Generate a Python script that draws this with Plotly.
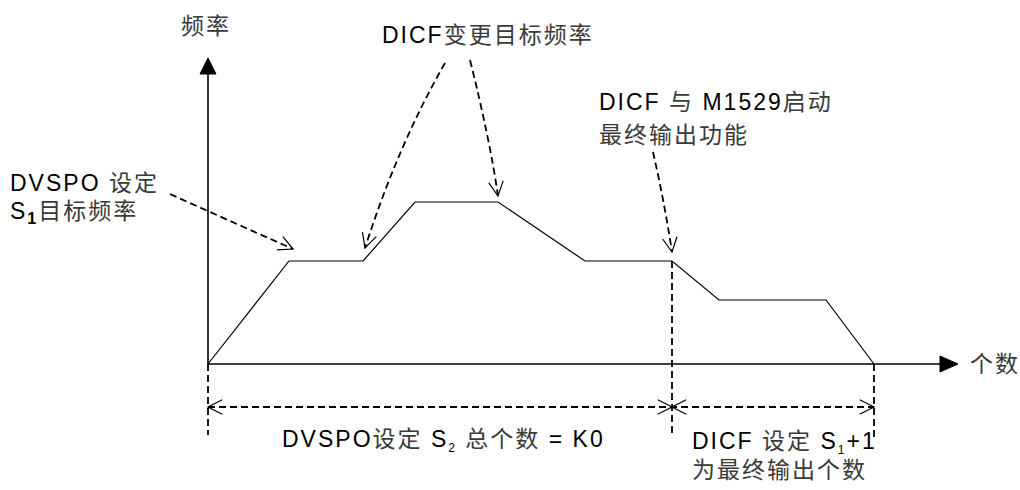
import math
import re
import plotly.graph_objects as go

# ---- data ----
counts = [0, 81, 155, 207, 290, 377, 464, 511, 618, 666]     # 个数 (relative units)
freqs = [0, 103, 103, 162, 162, 103, 103, 64, 64, 0]          # 频率 (relative units)
final_start = 464       # where DICF + M1529 starts final output
total_end = 666         # end of output

y_axis_title = "频率"
x_axis_title = "个数"

# ---- figure geometry helpers (pixel -> data) ----
OX, OY = 208, 364
W, H = 1020, 490


def P(px, py):
    return px - OX, OY - py


FONT = "Liberation Sans, Arial, Noto Sans CJK SC"
FS = 23

fig = go.Figure()
fig.add_trace(go.Scatter(x=counts, y=freqs, mode="lines",
                         line=dict(color="black", width=1.2),
                         hoverinfo="skip", showlegend=False))

shapes = []
DASH = "7px,4px"


def line(x0, y0, x1, y1, width=1.8, dash=None):
    shapes.append(dict(type="line", x0=x0, y0=y0, x1=x1, y1=y1, xref="x", yref="y",
                       line=dict(color="black", width=width, dash=dash)))


def vhead(x0, y0, x1, y1, L=16, th=27):
    dx, dy = x1 - x0, y1 - y0
    n = math.hypot(dx, dy)
    dx, dy = dx / n, dy / n
    pts = []
    for s in (1, -1):
        a = math.radians(th) * s
        rx = dx * math.cos(a) - dy * math.sin(a)
        ry = dx * math.sin(a) + dy * math.cos(a)
        pts.append((x1 - L * rx, y1 - L * ry))
    shapes.append(dict(type="path", xref="x", yref="y",
                       path=f"M {pts[0][0]},{pts[0][1]} L {x1},{y1} L {pts[1][0]},{pts[1][1]}",
                       line=dict(color="black", width=1.2)))


def curve_arrow(p0, c, p1):
    (x0, y0), (cx, cy), (x1, y1) = P(*p0), P(*c), P(*p1)
    shapes.append(dict(type="path", xref="x", yref="y",
                       path=f"M {x0},{y0} Q {cx},{cy} {x1},{y1}",
                       line=dict(color="black", width=1.8, dash=DASH)))
    vhead(cx, cy, x1, y1)


# axes
ytop = max(freqs) + 144
xend = total_end + 66
line(0, 0, 0, ytop - 16, width=1.6)
shapes.append(dict(type="path", xref="x", yref="y",
                   path=f"M -8,{ytop-16} L 8,{ytop-16} L 0,{ytop} Z",
                   fillcolor="black", line=dict(color="black", width=1)))
line(0, 0, xend, 0, width=1.6)
shapes.append(dict(type="path", xref="x", yref="y",
                   path=f"M {xend},-8 L {xend},8 L {xend+18},0 Z",
                   fillcolor="black", line=dict(color="black", width=1)))

# vertical dashed markers
dim_y = -43
line(0, 0, 0, -71, dash=DASH)
line(final_start, freqs[counts.index(final_start)], final_start, -73, dash=DASH)
line(total_end, 0, total_end, -73, dash=DASH)

# dimension line
line(0, dim_y, total_end, dim_y, dash=DASH)
vhead(20, dim_y, 0, dim_y)
vhead(0, dim_y, final_start, dim_y)
vhead(total_end, dim_y, final_start, dim_y)
vhead(final_start, dim_y, total_end, dim_y)

# annotation arrows
curve_arrow((170, 194), (232, 222), (293, 249))
curve_arrow((445, 63), (398, 145), (365, 248))
curve_arrow((470, 60), (490, 140), (498, 196))
curve_arrow((653, 152), (664, 200), (672, 252))

fig.update_layout(shapes=shapes)

ann = []
CJK = re.compile(r"([\u4e00-\u9fff]+)")


def text(t, px, py, anchor="left"):
    x, y = P(px, py)
    t = CJK.sub(r'<span style="fill:#3a3a3a">\1</span>', t)
    ann.append(dict(text=f'<span style="letter-spacing:2px">{t}</span>', x=x, y=y,
                    xref="x", yref="y", xanchor=anchor, yanchor="middle",
                    showarrow=False, font=dict(family=FONT, size=FS, color="black")))


SMALL = '<sub><span style="font-size:12px">{}</span></sub>'

text(y_axis_title, 206, 26, "center")
text("DICF变更目标频率", 488, 35, "center")
text("DICF 与 M1529启动", 597, 102)
text("最终输出功能", 597, 135)
text("DVSPO 设定", 8, 183)
text("S<sub><b>1</b></sub>目标频率", 8, 212)
text(x_axis_title, 968, 364)
text("DVSPO设定 S" + SMALL.format("2") + " 总个数 = K0", 280, 440)
text("DICF 设定 S" + SMALL.format("1") + "+1", 690, 442)
text("为最终输出个数", 690, 470)

fig.update_layout(annotations=ann)

fig.update_layout(
    width=W, height=H, margin=dict(l=0, r=0, t=0, b=0),
    paper_bgcolor="white", plot_bgcolor="white",
    xaxis=dict(range=[-OX, W - OX], visible=False, fixedrange=True),
    yaxis=dict(range=[OY - H, OY], visible=False, fixedrange=True),
    showlegend=False,
)

fig.write_html("out.html", config={"displayModeBar": False},
               post_script="document.body.style.margin='0';")
